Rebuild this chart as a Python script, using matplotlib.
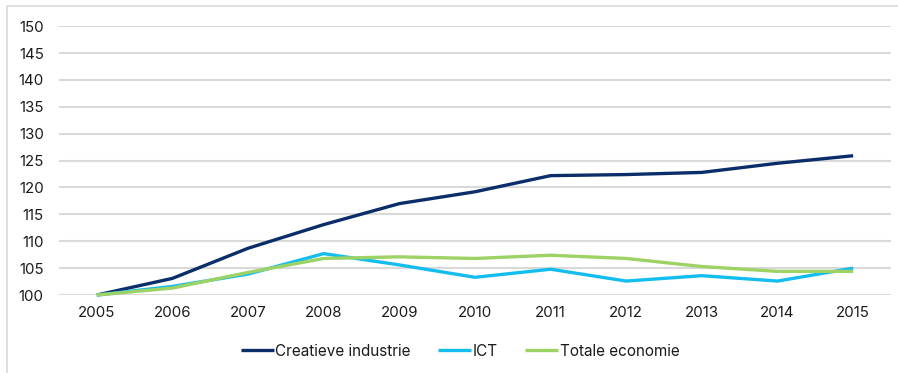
import matplotlib.pyplot as plt
from matplotlib.patches import Rectangle

plt.rcParams['font.family'] = ['Inter', 'DejaVu Sans']

# Index 2005 = 100
years = ['2005', '2006', '2007', '2008', '2009', '2010',
         '2011', '2012', '2013', '2014', '2015']
creatieve = [100, 103.1, 108.7, 113.1, 117.0, 119.2, 122.2, 122.4, 122.8, 124.5, 125.9]
ict = [100, 101.6, 103.9, 107.7, 105.6, 103.3, 104.8, 102.6, 103.6, 102.6, 105.0]
totaal = [100, 101.3, 104.2, 106.8, 107.1, 106.8, 107.4, 106.8, 105.3, 104.4, 104.4]

series = [
    ('Creatieve industrie', creatieve, '#0b2e6b'),
    ('ICT', ict, '#14bdf0'),
    ('Totale economie', totaal, '#9dd264'),
]

fig = plt.figure(figsize=(8.98, 3.73), dpi=100)
ax = fig.add_axes([0.0657, 0.209, 0.9265, 0.721])

# light frame round the chart area
fig.patches.append(Rectangle((7 / 898, -0.05), 1.0, 1 - 6 / 373 + 0.05,
                             transform=fig.transFigure, fill=False,
                             edgecolor='#d9d9d9', linewidth=1.2))

x = list(range(len(years)))
lines = []
for name, vals, col in series:
    ln, = ax.plot(x, vals, color=col, linewidth=2.4, label=name,
                  solid_capstyle='butt', solid_joinstyle='miter')
    lines.append(ln)

ax.set_xlim(-0.5, len(years) - 0.5)
ax.set_ylim(100, 150)
ax.set_yticks(range(100, 151, 5))
ax.set_xticks(x)
ax.set_xticklabels(years)
ax.grid(axis='y', color='#d9d9d9', linewidth=1.5)
ax.set_axisbelow(True)
for s in ax.spines.values():
    s.set_visible(False)
ax.tick_params(length=0, labelsize=10.8, labelcolor='#1a1a1a')
ax.tick_params(axis='y', pad=11)
ax.tick_params(axis='x', pad=8)
for ln in lines:
    ln.set_clip_on(False)

fig.legend(handles=lines, loc='center', bbox_to_anchor=(460 / 898, 1 - 351 / 373),
           ncol=3, frameon=False, fontsize=11, handlelength=2.15,
           handletextpad=0.1, columnspacing=1.8, labelcolor='#1a1a1a')

fig.savefig('out.png', dpi=100)
